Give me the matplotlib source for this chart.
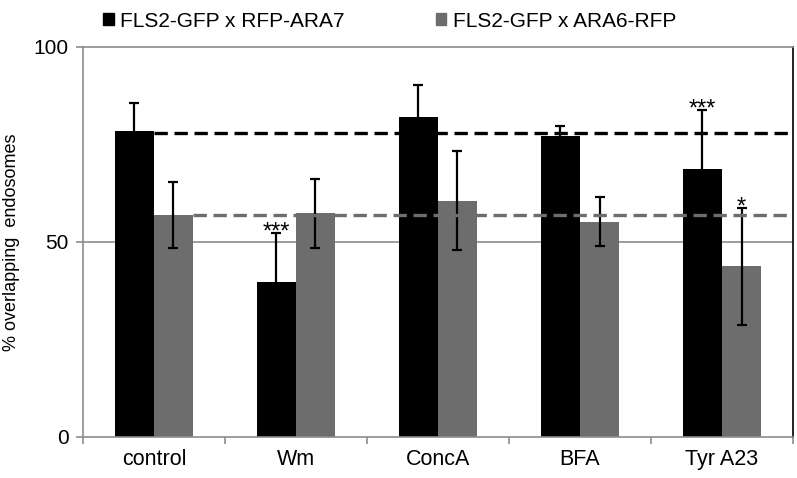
import numpy as np
import matplotlib.pyplot as plt
from matplotlib.patches import Patch

plt.rcParams['font.family'] = ['Liberation Sans', 'DejaVu Sans']

categories = ['control', 'Wm', 'ConcA', 'BFA', 'Tyr A23']
ara7 = [78.3, 39.6, 82.1, 77.2, 68.7]
ara7_err = [7.3, 12.8, 8.2, 2.6, 15.1]
ara6 = [56.9, 57.3, 60.5, 55.2, 43.7]
ara6_err = [8.4, 8.8, 12.7, 6.3, 15.0]
ref_ara7 = 78.0
ref_ara6 = 56.8
stars7 = ['', '***', '', '', '***']
stars6 = ['', '', '', '', '*']

black = '#000000'
grey = '#6d6d6d'

fig = plt.figure(figsize=(7.97, 4.78), dpi=100)
ax = fig.add_axes([0.104, 0.086, 0.891, 0.816])

x = np.arange(len(categories))
w = 0.275

ax.axhline(50, color='#8c8c8c', lw=1.2, zorder=1)
ax.bar(x - w/2, ara7, w, color=black, zorder=2)
ax.bar(x + w/2, ara6, w, color=grey, zorder=2)
ax.errorbar(x - w/2, ara7, yerr=ara7_err, fmt='none', ecolor=black,
            elinewidth=1.6, capsize=3.5, capthick=1.6, zorder=3)
ax.errorbar(x + w/2, ara6, yerr=ara6_err, fmt='none', ecolor=black,
            elinewidth=1.6, capsize=3.5, capthick=1.6, zorder=3)

# control reference lines
ax.plot([x[0], 4.5], [ref_ara7, ref_ara7], color=black, lw=2.4,
        dashes=(4, 2), zorder=4)
ax.plot([x[0] + w, 4.5], [ref_ara6, ref_ara6], color=grey, lw=2.4,
        dashes=(4, 2), zorder=4)

for i in range(len(categories)):
    if stars7[i]:
        ax.text(x[i] - w/2, ara7[i] + ara7_err[i] - 2.8, stars7[i],
                ha='center', va='bottom', fontsize=17)
    if stars6[i]:
        ax.text(x[i] + w/2, ara6[i] + ara6_err[i] - 2.8, stars6[i],
                ha='center', va='bottom', fontsize=17)

ax.set_xlim(-0.5, 4.5)
ax.set_ylim(0, 100)
ax.set_yticks([0, 50, 100])
ax.set_xticks(x)
ax.set_xticks(np.arange(-0.5, 4.6, 1), minor=True)
ax.set_xticklabels(categories, fontsize=15.5)
ax.tick_params(axis='x', which='major', length=0, pad=9)
ax.tick_params(axis='x', which='minor', length=5, color='#8c8c8c', width=1.2)
ax.tick_params(axis='y', length=5, color='#8c8c8c', width=1.2, labelsize=15,
               pad=5)
ax.set_ylabel('% overlapping  endosomes', fontsize=13, labelpad=10)

for s in ['left', 'bottom', 'top']:
    ax.spines[s].set_color('#8c8c8c')
    ax.spines[s].set_linewidth(1.2)
ax.spines['right'].set_color(black)
ax.spines['right'].set_linewidth(1.2)

handles = [Patch(color=black), Patch(color=grey)]
fig.legend(handles, ['FLS2-GFP x RFP-ARA7', 'FLS2-GFP x ARA6-RFP'],
           loc='upper left', bbox_to_anchor=(0.106, 1.015), ncol=2,
           frameon=False, fontsize=15, handlelength=0.5, handleheight=0.5,
           handletextpad=0.3, columnspacing=4.4)

fig.savefig('out.png', dpi=100)
